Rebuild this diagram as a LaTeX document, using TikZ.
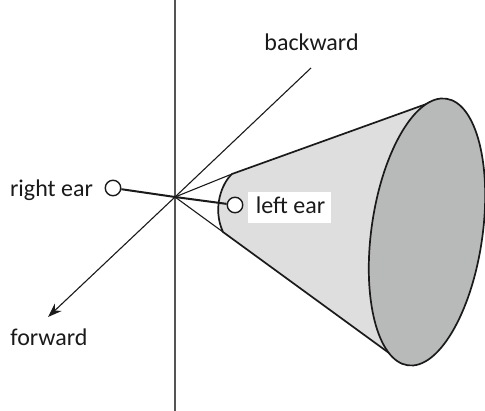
\documentclass[tikz,border=0pt]{standalone}
\usepackage{fontspec}
\setmainfont{Carlito}
\usetikzlibrary{arrows.meta}
\definecolor{conefill}{RGB}{222,222,222}
\definecolor{capfill}{RGB}{184,186,185}
\definecolor{axisgray}{RGB}{85,85,85}
\definecolor{ink}{RGB}{26,26,26}
\tikzset{
  x=1pt,y=1pt,
  lbl/.style={inner sep=0pt,text=ink,font=\fontsize{24}{26}\selectfont,anchor=base},
  ear/.style={circle,draw=ink,fill=white,line width=1.4pt,minimum size=15.5pt,inner sep=0pt},
  thin axis/.style={draw=ink,line width=1.1pt},
  outline/.style={draw=ink,line width=1.7pt},
}
\begin{document}
\begin{tikzpicture}
\useasboundingbox (0,0) rectangle (485,411);
% y = 411 - py
\coordinate (O) at (175,214);
\coordinate (vtop) at (175,411);
\coordinate (vbot) at (175,0);
\coordinate (back) at (311,343);
\coordinate (fwd) at (48,94);
\coordinate (ct) at (232,237);
\coordinate (cb) at (223,179);
\coordinate (et) at (432,309);
\coordinate (eb) at (400,50);
\draw[axisgray,line width=1.3pt] (vtop) -- (vbot);
\draw[thin axis] (O) -- (back);
\draw[thin axis,-{Stealth[length=14pt,width=10pt]}] (O) -- (fwd);
\draw[thin axis] (O) -- (ct);
\draw[thin axis] (O) -- (cb);
\path[fill=conefill,outline] (et) -- (ct) .. controls (222,228) and (212,203) .. (cb) -- (eb) -- cycle;
\draw[fill=capfill,outline,rotate around={-8.2:(427,179)}] (427,179) ellipse [x radius=55.5,y radius=134.7];
\node[fill=white,minimum width=83pt,minimum height=31pt,inner sep=0pt] (lbox) at (289.5,203.5) {};
\node[ear] (R) at (113,223) {};
\node[ear] (L) at (235,206) {};
\draw[ink,line width=2pt] (R) -- (O) -- (L);
\node[lbl] (t1) at (51.5,214.5) {right ear};
\node[lbl] (t2) at (311.5,360) {backward};
\node[lbl] (t3) at (290.5,197.5) {left ear};
\node[lbl] (t4) at (49,65.5) {forward};
\end{tikzpicture}
\end{document}
